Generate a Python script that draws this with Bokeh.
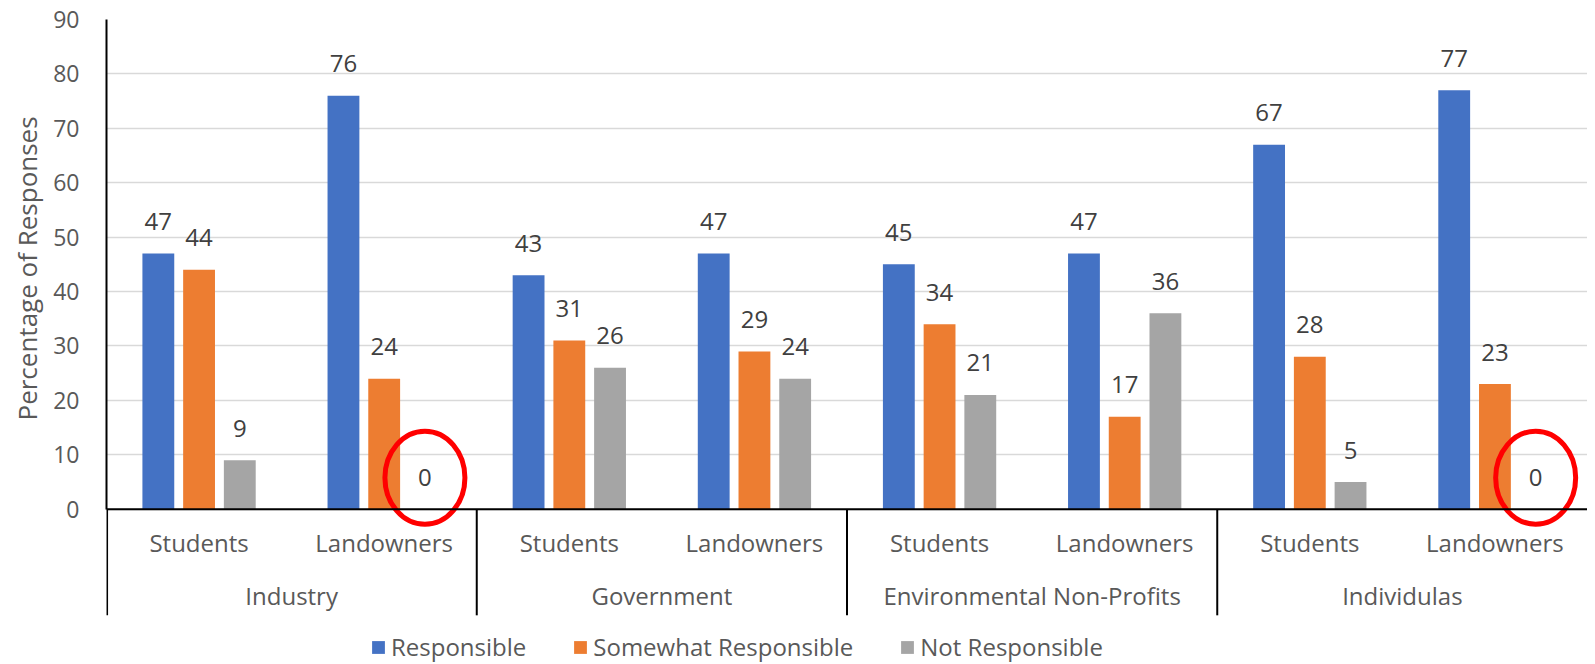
from bokeh.plotting import figure
from bokeh.models import FactorRange, Range1d, FixedTicker, Span, Legend, LegendItem, ColumnDataSource, Title
from bokeh.transform import dodge
from bokeh.core.properties import value
from bokeh.embed import file_html
from bokeh.resources import INLINE

groups = ["Industry", "Government", "Environmental Non-Profits", "Individulas"]
subgroups = ["Students", "Landowners"]
series_names = ["Responsible", "Somewhat Responsible", "Not Responsible"]
responsible = [47, 76, 43, 47, 45, 47, 67, 77]
somewhat = [44, 24, 31, 29, 34, 17, 28, 23]
not_responsible = [9, 0, 26, 24, 21, 36, 5, 0]
y_ticks = [0, 10, 20, 30, 40, 50, 60, 70, 80, 90]
y_title = "Percentage of Responses"

colors = ["#4472C4", "#ED7D31", "#A5A5A5"]
FONT = "Open Sans"
LABEL_COLOR = "#595959"
FS = "24px"

factors = [(g, s) for g in groups for s in subgroups]
src = ColumnDataSource(dict(
    x=factors,
    r=responsible, s=somewhat, n=not_responsible,
    rl=[str(v) for v in responsible],
    sl=[str(v) for v in somewhat],
    nl=[str(v) for v in not_responsible],
))

AXIS_BOTTOM = -19.5
x_range = FactorRange(factors=factors, group_padding=0, factor_padding=0, range_padding=0)
p = figure(x_range=x_range, y_range=Range1d(-28.17, 90), width=1587, height=662,
           output_backend="svg", toolbar_location=None,
           min_border_left=99, min_border_right=0, min_border_top=19, min_border_bottom=0)
p.outline_line_color = None
p.xaxis.visible = False
p.xgrid.grid_line_color = None
p.ygrid.ticker = FixedTicker(ticks=y_ticks)
p.ygrid.grid_line_color = "#d9d9d9"
p.ygrid.grid_line_width = 1.5

yax = p.yaxis[0]
yax.ticker = FixedTicker(ticks=y_ticks)
yax.bounds = (0, 90)
yax.axis_line_color = "black"
yax.axis_line_width = 2
yax.major_tick_line_color = None
yax.major_tick_out = 0
yax.major_tick_in = 0
yax.minor_tick_line_color = None
yax.major_label_standoff = 27
yax.major_label_text_font = FONT
yax.major_label_text_font_size = "23px"
yax.major_label_text_color = LABEL_COLOR

# y axis title, placed alongside the 0-90 value area
p.add_layout(Title(text=y_title, align="left", offset=242, standoff=12,
                   text_font=FONT, text_font_size="26px", text_font_style="normal",
                   text_color=LABEL_COLOR), "left")

offsets = [-0.22, 0.0, 0.22]
cols = ["r", "s", "n"]
lcols = ["rl", "sl", "nl"]
renderers = []
for off, c, lc, color in zip(offsets, cols, lcols, colors):
    r = p.vbar(x=dodge("x", off, range=p.x_range), top=c, width=0.172, source=src,
               fill_color=color, line_color=None)
    renderers.append(r)
    p.text(x=dodge("x", off, range=p.x_range), y=c, text=lc, source=src,
           y_offset=-32, text_align="center", text_baseline="middle",
           text_font=value(FONT), text_font_size=FS, text_color="#404040")

# x axis line at zero
p.add_layout(Span(location=0, dimension="width", line_color="black", line_width=2))

# category separators: left edge plus the boundaries between groups
sep_x = [(groups[0], subgroups[0], -0.497)] + [(g, subgroups[-1], 0.5) for g in groups[:-1]]
p.segment(x0=sep_x, x1=sep_x, y0=[0] * len(sep_x), y1=[AXIS_BOTTOM] * len(sep_x),
          line_color="black", line_width=2)

# sub-category labels
p.text(x=factors, y=[-6.2] * len(factors), text=[s for g in groups for s in subgroups],
       text_align="center", text_baseline="middle", text_font=value(FONT),
       text_font_size=FS, text_color=LABEL_COLOR)
# group labels
grp_x = [(g, subgroups[0], 0.5) for g in groups]
p.text(x=grp_x, y=[-15.9] * len(groups), text=groups,
       text_align="center", text_baseline="middle", text_font=value(FONT),
       text_font_size=FS, text_color=LABEL_COLOR)

# red circles around the zero labels
zero_x = [(g, s, 0.22) for (g, s), v in zip(factors, not_responsible) if v == 0]
zero_y = [v + 5.8 for v in not_responsible if v == 0]
p.ellipse(x=zero_x, y=zero_y, width=80, height=93, width_units="screen", height_units="screen",
          fill_color=None, line_color="#FF0000", line_width=5)

legend = Legend(items=[LegendItem(label=n, renderers=[r]) for n, r in zip(series_names, renderers)],
                orientation="horizontal", location=(264, -1),
                label_text_font=FONT, label_text_font_size=FS, label_text_color=LABEL_COLOR,
                glyph_width=16, glyph_height=16, label_standoff=5, spacing=46,
                border_line_color=None, background_fill_alpha=0, padding=4, margin=0)
p.add_layout(legend)

open("out.html", "w").write(file_html(p, INLINE))
